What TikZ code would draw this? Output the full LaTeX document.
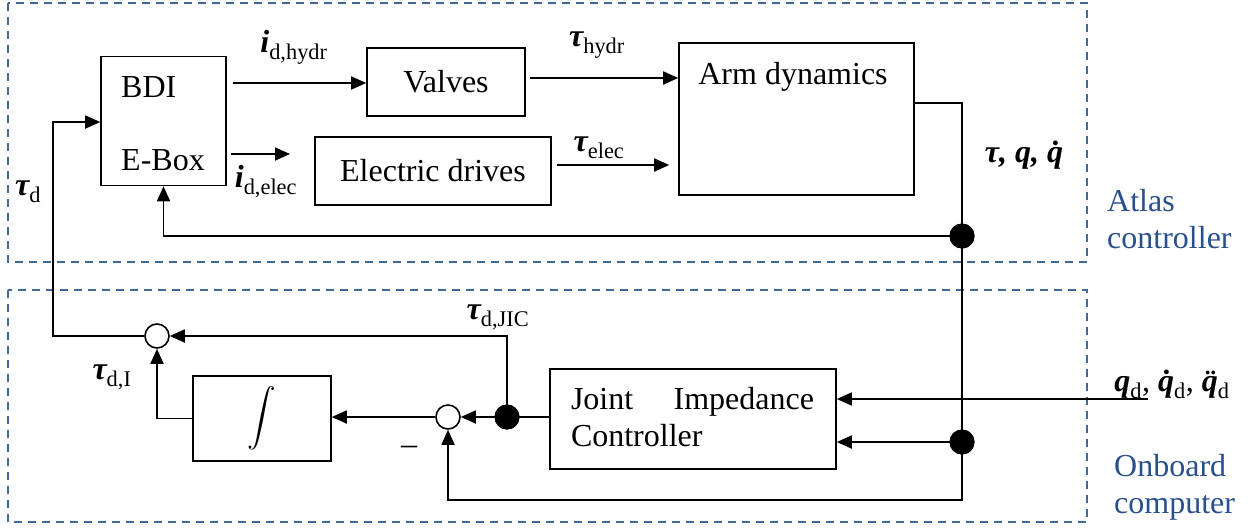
\documentclass[tikz,border=0pt]{standalone}
\usepackage{amsmath}
\usepackage{exscale}
\usepackage{fontspec}
\setmainfont{Liberation Serif}
\usetikzlibrary{arrows.meta}
\definecolor{dashblue}{RGB}{65,105,152}
\definecolor{txtblue}{RGB}{40,80,140}
\newcommand\bsym[1]{{\bfseries\itshape #1}}
\begin{document}
\begin{tikzpicture}[x=1pt,y=-1pt,
  every node/.style={font=\fontsize{32}{37}\selectfont},
  blk/.style={draw, line width=1.6pt, inner sep=0pt},
  ln/.style={line width=1.8pt},
  arr/.style={ln, -{Triangle[length=15pt,width=13pt]}},
  jdot/.style={circle, fill=black, inner sep=0pt, minimum size=25pt},
  sumc/.style={circle, draw, fill=white, line width=1.6pt, inner sep=0pt, minimum size=24pt},
  grp/.style={draw=dashblue, dash pattern=on 8pt off 6pt, line width=1.5pt},
  lbl/.style={inner sep=0pt},
  grplbl/.style={inner sep=0pt, text=txtblue, align=left, anchor=west}]
\useasboundingbox (0,0) rectangle (1249,527);
% group frames
\draw[grp] (8,3) rectangle (1087,262);
\draw[grp] (8,290) rectangle (1087,522);
\node[grplbl] (atl) at (1107,219) {Atlas\\controller};
\node[grplbl] (onb) at (1114,487) {Onboard\\computer};
% blocks
\node[blk, minimum width=125pt, minimum height=129pt] (bdi) at (163.5,121) {};
\node[lbl, anchor=west] (bditxt) at (121,87) {BDI};
\node[lbl, anchor=west] (eboxtxt) at (121,160) {E-Box};
\node[blk, minimum width=158pt, minimum height=68pt] (valves) at (446,82) {Valves};
\node[blk, minimum width=236pt, minimum height=68pt] (elec) at (433,171) {Electric drives};
\node[blk, minimum width=235pt, minimum height=152pt] (arm) at (796.5,119) {};
\node[lbl] (armtxt) at (793,77) {Arm dynamics};
\node[blk, minimum width=286pt, minimum height=100pt] (jic) at (693,419) {};
\node[lbl, text width=243pt, align=justify] (jictxt) at (692.5,417) {Joint Impedance Controller};
\node[blk, minimum width=138pt, minimum height=85pt] (integ) at (262,418.5) {\scalebox{1.15}{$\displaystyle\int$}};
\node[sumc] (s1) at (157,336) {};
\node[sumc] (s2) at (448,417) {};
\coordinate (eout) at (290,154);
\coordinate (tdc) at (53,122);
\coordinate (qin) at (1148,399);
\coordinate (armo) at (962,103);
\coordinate (fb) at (962,500);
\node[jdot] (d1) at (962,236) {};
\node[jdot] (d2) at (962,442) {};
\node[jdot] (d3) at (507,417) {};
% connectors
\draw[arr] ([xshift=6pt]bdi.east |- 0,83) -- (valves.west |- 0,83);
\draw[arr] ([xshift=4pt]bdi.east |- eout) -- (eout);
\draw[arr] ([xshift=4pt]valves.east |- 0,78) -- (arm.west |- 0,78);
\draw[arr] ([xshift=5pt]elec.east |- 0,165) -- ([xshift=-9pt]arm.west |- 0,165);
\draw[ln] (arm.east |- armo) -- (armo) -- (d1.center) -- (d2.center);
\draw[arr] (d1.center) -| (bdi.south);
\draw[arr] (s1.west) -| (tdc) -- (bdi.west |- tdc);
\draw[ln] (jic.west |- d3) -- (d3.center);
\draw[arr] (d3.center) -- (s2.east);
\draw[arr] (d3.center) |- (s1.east);
\draw[arr] (s2.west) -- (integ.east |- s2);
\draw[arr] (integ.west) -| (s1.south);
\draw[arr] (qin) -- (jic.east |- qin);
\draw[arr] (d2.center) -- (jic.east |- d2);
\draw[arr] (d2.center) -- (fb) -| (s2.south);
% redraw dots on top
\node[jdot] at (d1) {};
\node[jdot] at (d2) {};
\node[jdot] at (d3) {};
% labels
\node[lbl] (lidh) at (294,47) {\bsym{i}\textsubscript{d,hydr}};
\node[lbl] (lth) at (597,45) {\bsym{τ}\textsubscript{hydr}};
\node[lbl] (lte) at (599,148) {\bsym{τ}\textsubscript{elec}};
\node[lbl] (lide) at (266,182) {\bsym{i}\textsubscript{d,elec}};
\node[lbl] (ltd) at (28,192) {\bsym{τ}\textsubscript{d}};
\node[lbl] (ltdi) at (112,377) {\bsym{τ}\textsubscript{d,I}};
\node[lbl] (ltdj) at (498,317) {\bsym{τ}\textsubscript{d,JIC}};
\node[lbl] (ltqq) at (1024,155) {\bsym{τ, q, \.{q}}};
\node[lbl] (lqd) at (1172,384) {\bsym{q}\textsubscript{d}, \bsym{\.{q}}\textsubscript{d}, \bsym{\"{q}}\textsubscript{d}};
\node[lbl] (minus) at (409,450) {–};
\end{tikzpicture}
\end{document}
